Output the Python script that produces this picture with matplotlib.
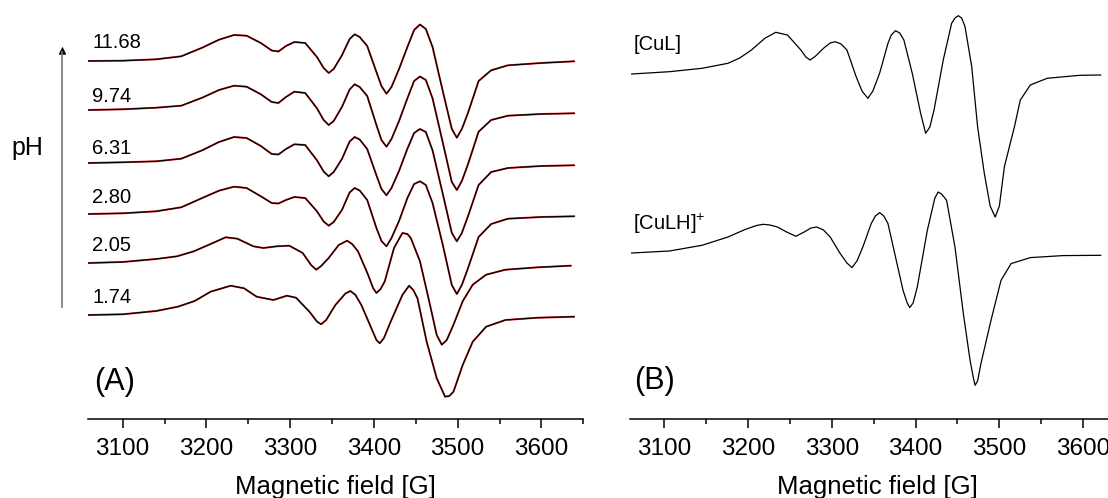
import matplotlib
matplotlib.use("Agg")
import matplotlib.pyplot as plt
import numpy as np

plt.rcParams['font.family'] = ['Liberation Sans', 'DejaVu Sans']
plt.rcParams['mathtext.fontset'] = 'custom'
plt.rcParams['mathtext.rm'] = 'Liberation Sans'

# ---- panel A: experimental spectra at each pH (field in G, signal in arb. units) ----
ph_labels = ["11.68", "9.74", "6.31", "2.80", "2.05", "1.74"]

field_hi = [3059, 3100, 3140, 3170, 3195, 3215, 3233, 3248, 3265, 3278, 3286, 3295, 3305, 3318, 3332,
            3340, 3346, 3352, 3362, 3371, 3377, 3383, 3392, 3403, 3409, 3415, 3421, 3430, 3440, 3448,
            3455, 3462, 3470, 3482, 3493, 3499, 3505, 3512, 3525, 3540, 3560, 3600, 3639]
sig_1168 = [0, 0.3, 1.7, 4.7, 13.3, 21.3, 26, 25.3, 18, 10.5, 9.5, 15, 19, 18, 4, -7, -12, -8, 6, 22,
            26.7, 24, 15, -11, -25, -32.7, -26, -8, 14, 31, 36.5, 32, 14, -29.3, -68, -76.7, -68, -52.7,
            -20, -9.3, -4.3, -2, -0.3]
sig_974 = [0, 0.7, 2.3, 4.3, 12.3, 20, 24.3, 23.3, 15.7, 8, 7, 13, 18.3, 17, 1.7, -10, -15, -11, 3.3,
           20.5, 25.7, 23, 14, -15, -30, -36.7, -29, -11, 11.7, 29, 33.5, 30, 11.7, -31.7, -72, -80, -71,
           -55, -21.7, -10, -5.7, -4, -3.3]
sig_631 = [0, 0.7, 1.7, 4.3, 12.7, 21, 26, 25, 17, 9, 8.5, 14, 18.7, 18, 2.7, -8.5, -13.3, -9, 4.3, 21.5,
           26, 23.5, 14, -12.3, -26, -32.3, -25, -8, 14.3, 30, 34, 31, 12.7, -30, -70, -78.3, -70, -54,
           -22, -9, -5, -3, -2.3]
sig_280 = [0, 0.7, 2.7, 6.7, 16, 23.3, 27.3, 26, 17.7, 11, 10.5, 14, 17, 16, 2.7, -7.5, -11.7, -8, 4.3,
           21.5, 26, 23.5, 14, -14, -27, -32.3, -24, -7, 16, 30, 32.7, 29, 11, -30, -71, -80, -71, -55,
           -23, -10, -4.7, -3, -2.3]

field_205 = [3059, 3100, 3140, 3165, 3185, 3205, 3223, 3237, 3256, 3268, 3284, 3299, 3315, 3325, 3331,
             3337, 3346, 3358, 3368, 3374, 3381, 3393, 3399, 3403, 3408, 3413, 3424, 3434, 3440, 3444,
             3455, 3466, 3475, 3481, 3487, 3495, 3506, 3518, 3534, 3557, 3596, 3635]
sig_205 = [0, 1, 4, 6.7, 11.7, 19, 25.7, 24.3, 16.7, 15, 16.7, 17.3, 10, -2, -6.7, -3, 5, 18, 22.3, 19,
           11.7, -11.7, -25, -30, -26, -18.3, 15, 30, 29, 25, 1.7, -38.3, -72, -81.7, -77, -61.7, -38.3,
           -21.7, -11.7, -6.7, -4.3, -2.7]

field_174 = [3059, 3100, 3140, 3166, 3186, 3205, 3229, 3245, 3260, 3280, 3296, 3307, 3323, 3332, 3337,
             3343, 3354, 3366, 3372, 3378, 3385, 3397, 3403, 3407, 3412, 3420, 3434, 3442, 3447, 3452,
             3463, 3475, 3485, 3490, 3495, 3506, 3518, 3534, 3557, 3596, 3639]
sig_174 = [0, 0.7, 4, 8.3, 14, 23.3, 29.3, 26.7, 18.3, 15, 19.3, 17.3, 3.3, -6.5, -9.3, -5, 10, 21.5, 24,
           20, 10, -13.3, -25, -28.3, -23, -6.7, 20, 29.3, 25, 16.7, -26.7, -63.3, -81.7, -81, -76.7, -50,
           -26.7, -11.7, -5, -2.7, -1.7]

# ---- panel B: simulated spectra of the two species ----
field_cul = [3061, 3106, 3145, 3176, 3190, 3204, 3220, 3233, 3247, 3263, 3269, 3274, 3280, 3290, 3298,
             3304, 3311, 3318, 3329, 3336, 3343, 3349, 3357, 3367, 3371, 3376, 3381, 3386, 3396, 3406,
             3412, 3417, 3422, 3433, 3443, 3447, 3451, 3455, 3459, 3467, 3474, 3482, 3489, 3495, 3500,
             3506, 3518, 3525, 3537, 3557, 3596, 3621]
sig_cul = [0, 2.3, 5.7, 10.7, 16, 24, 35.7, 41.7, 39, 24, 17, 14, 17.5, 25.7, 31, 32.3, 30, 24, -2.7, -17,
           -24.3, -17, 0.7, 30.7, 39, 43.3, 41, 34, 0.7, -39.3, -59.3, -53, -36, 14, 50.7, 56, 58.3, 56,
           47.3, 7.3, -52.7, -99.3, -132, -143, -132, -92.7, -52.7, -26, -11, -4.3, -1.3, -1]

field_culh = [3061, 3106, 3145, 3176, 3196, 3210, 3218, 3226, 3235, 3246, 3257, 3267, 3275, 3282, 3290,
              3298, 3310, 3318, 3324, 3330, 3337, 3347, 3352, 3357, 3362, 3367, 3376, 3385, 3390, 3393,
              3397, 3402, 3414, 3423, 3427, 3431, 3437, 3447, 3457, 3465, 3469, 3471, 3474, 3478, 3490,
              3502, 3514, 3537, 3576, 3621]
sig_culh = [0, 2, 7.7, 16, 23.4, 27.5, 28.7, 28, 26, 21, 16.7, 21, 25, 26, 23, 16, -0.6, -10, -14.6, -8,
            6, 29.4, 37, 40.4, 37, 29.4, -4, -37.3, -50, -54.6, -50, -34, 22.7, 55, 61, 59, 52.7, 6,
            -60.6, -107.3, -125, -132.3, -128, -110.6, -67.3, -27.3, -10.6, -4.6, -2.6, -2.3]

spectra_a = [(field_hi, sig_1168), (field_hi, sig_974), (field_hi, sig_631),
             (field_hi, sig_280), (field_205, sig_205), (field_174, sig_174)]

# layout (pixels of the 1108x498 picture)
W, H = 1108, 498
base_a = [61, 110, 163, 214, 263, 315]
label_y = [43, 96, 148, 197, 245, 297]
base_b = [74, 253]

fig = plt.figure(figsize=(W / 100, H / 100), dpi=100)
axA = fig.add_axes([88.3 / W, (H - 419) / H, 495 / W, 419 / H])
axB = fig.add_axes([630 / W, (H - 419) / H, 495 / W, 419 / H])

for ax in (axA, axB):
    ax.set_xlim(3059, 3639)
    ax.set_ylim(-419, 0)
    for s in ('left', 'right', 'top'):
        ax.spines[s].set_visible(False)
    ax.spines['bottom'].set_linewidth(1.1)
    ax.set_yticks([])
    ax.set_xticks(np.arange(3100, 3601, 100))
    ax.set_xticks(np.arange(3150, 3651, 100), minor=True)
    ax.tick_params(axis='x', which='major', direction='out', length=6.5, width=1.1,
                   labelsize=17.5, pad=7)
    ax.tick_params(axis='x', which='minor', direction='out', length=3.6, width=1.1)
    ax.set_xlabel('Magnetic field [G]', fontsize=18.5, labelpad=11)
    ax.patch.set_alpha(0)

for (f, s), b, lab, ly in zip(spectra_a, base_a, ph_labels, label_y):
    y = -b + np.array(s)
    axA.plot(f, y, color='#e03030', lw=1.4)
    axA.plot(f, y, color='black', lw=0.9)
    axA.text(3064, -ly, lab, fontsize=14.5, ha='left', va='center')

axA.text(3090, -382, '(A)', fontsize=22, ha='center', va='center')

axB.plot(field_cul, -base_b[0] + np.array(sig_cul), color='black', lw=0.9)
axB.plot(field_culh, -base_b[1] + np.array(sig_culh), color='black', lw=0.9)
axB.text(3063, -45, '[CuL]', fontsize=14.5, ha='left', va='center')
axB.text(3062, -224, '[CuLH]$^{+}$', fontsize=14.5, ha='left', va='center')
axB.text(3088, -381, '(B)', fontsize=22, ha='center', va='center')

# pH arrow on the left
fig.text(27 / W, 1 - 148 / H, 'pH', fontsize=18, ha='center', va='center')
fig.add_artist(plt.Line2D([62.5 / W, 62.5 / W], [1 - 307 / H, 1 - 52 / H],
                          transform=fig.transFigure, color='#777777', lw=1.2))
axA.annotate('', xy=(62.5 / W, 1 - 44 / H), xytext=(62.5 / W, 1 - 56 / H),
             xycoords='figure fraction', textcoords='figure fraction',
             arrowprops=dict(arrowstyle='-|>', color='black', lw=0.8, mutation_scale=11))

fig.savefig('out.png', dpi=100)
